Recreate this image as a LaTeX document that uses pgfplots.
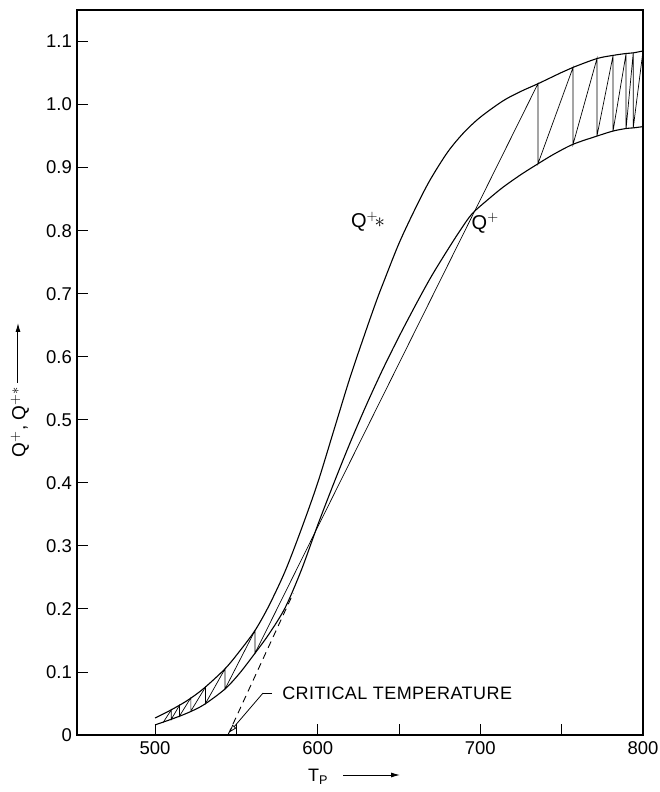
\documentclass[border=0pt]{standalone}
\usepackage{fontspec}
\setmainfont{Liberation Sans}
\newfontfamily\spaced[LetterSpace=2.5]{Liberation Sans}
\usepackage{pgfplots}
\pgfplotsset{compat=1.18}
\usetikzlibrary{arrows.meta}

% upper curve Q*+
\pgfplotstableread{
x y
500 0.027
510 0.040
520 0.055
530 0.074
543 0.105
552 0.133
561.5 0.166
570 0.205
580 0.260
590 0.327
600 0.400
610 0.484
620 0.568
630 0.644
636.3 0.690
640 0.715
650 0.780
660 0.835
669 0.880
680 0.925
690 0.956
700 0.980
714 1.006
725 1.021
735.4 1.033
750 1.051
757 1.059
771.7 1.073
781.6 1.078
789.6 1.081
794 1.082
800 1.085
}\qstar

% lower curve Q+
\pgfplotstableread{
x y
500 0.016
510 0.025
520 0.035
530 0.048
543 0.073
552 0.098
561.5 0.130
570 0.160
580 0.202
590 0.262
600 0.333
610 0.400
620 0.464
630 0.524
640 0.580
650 0.632
661 0.686
670 0.728
680 0.770
688 0.802
695 0.827
705 0.850
714 0.869
725 0.889
735.4 0.906
745 0.921
757 0.937
771.7 0.950
781.6 0.958
789.6 0.962
794 0.963
800 0.965
}\qplus

% stage construction between the two curves
\pgfplotstableread{
x y
505 0.020
510 0.040
510 0.025
515 0.047
515 0.030
522 0.059
522 0.038
531 0.076
531 0.050
543 0.105
543 0.073
561.5 0.166
561.5 0.130
735.4 1.033
735.4 0.906
757 1.059
757 0.937
771.7 1.073
771.7 0.950
781.6 1.078
781.6 0.958
789.6 1.081
789.6 0.962
794 1.082
794 0.963
800 1.085
}\stages

\begin{document}
\fontsize{18}{21}\selectfont
\begin{tikzpicture}
\useasboundingbox (-77pt,-57pt) rectangle (582pt,735pt);
\begin{axis}[
    at={(0pt,0pt)}, anchor=south west,
    scale only axis, width=566pt, height=725pt,
    xmin=452, xmax=800, ymin=0, ymax=1.15,
    xtick={500,600,700,800},
    minor xtick={550,650,750},
    ytick={0,0.1,0.2,0.3,0.4,0.5,0.6,0.7,0.8,0.9,1.0,1.1},
    yticklabels={0,0.1,0.2,0.3,0.4,0.5,0.6,0.7,0.8,0.9,1.0,1.1},
    tick align=inside,
    xtick pos=bottom, ytick pos=left,
    major tick length=11pt, minor tick length=11pt,
    every tick/.style={black, line width=0.9pt},
    axis line style={line width=1.2pt},
    tick label style={font=\fontsize{18.5}{21}\selectfont},
    yticklabel style={xshift=1pt},
    /pgf/number format/assume math mode=true,
]
\addplot[black, line width=1.1pt, smooth, tension=0.5] table {\qstar};
\addplot[black, line width=1.1pt, smooth, tension=0.5] table {\qplus};
\addplot[black, line width=0.7pt] table {\stages};
\addplot[black, line width=0.9pt, dash pattern=on 7pt off 5pt] coordinates {(544.8,0) (585,0.225)};

\draw[line width=0.8pt] (axis cs:572,0.0666) -- (axis cs:566.4,0.0666)
    edge[-{Triangle[open,length=8pt,width=5pt]}] (axis cs:545.6,0.004);
\node[anchor=west, font=\fontsize{18}{21}\spaced] at (axis cs:574.4,0.0666) {CRITICAL TEMPERATURE};

\node[font=\fontsize{20}{24}\selectfont] at (axis cs:631,0.814) {Q$^{+}\!\mathord{\ast}$};
\node[font=\fontsize{20}{24}\selectfont] at (axis cs:703,0.812) {Q$^{+}$};
\end{axis}

\node[rotate=90, font=\fontsize{19}{22}\selectfont] at (-57pt,313pt) {Q$^{+}$, Q$^{+\ast}$};
\draw[-{Latex[length=9pt,width=5pt]}, line width=1pt] (-59pt,352pt) -- (-59pt,412pt);
\node[font=\fontsize{18}{21}\selectfont] at (241pt,-42pt) {T$_{\mathrm{P}}$};
\draw[-{Latex[length=9pt,width=5pt]}, line width=1pt] (266pt,-40pt) -- (323pt,-40pt);
\end{tikzpicture}
\end{document}
